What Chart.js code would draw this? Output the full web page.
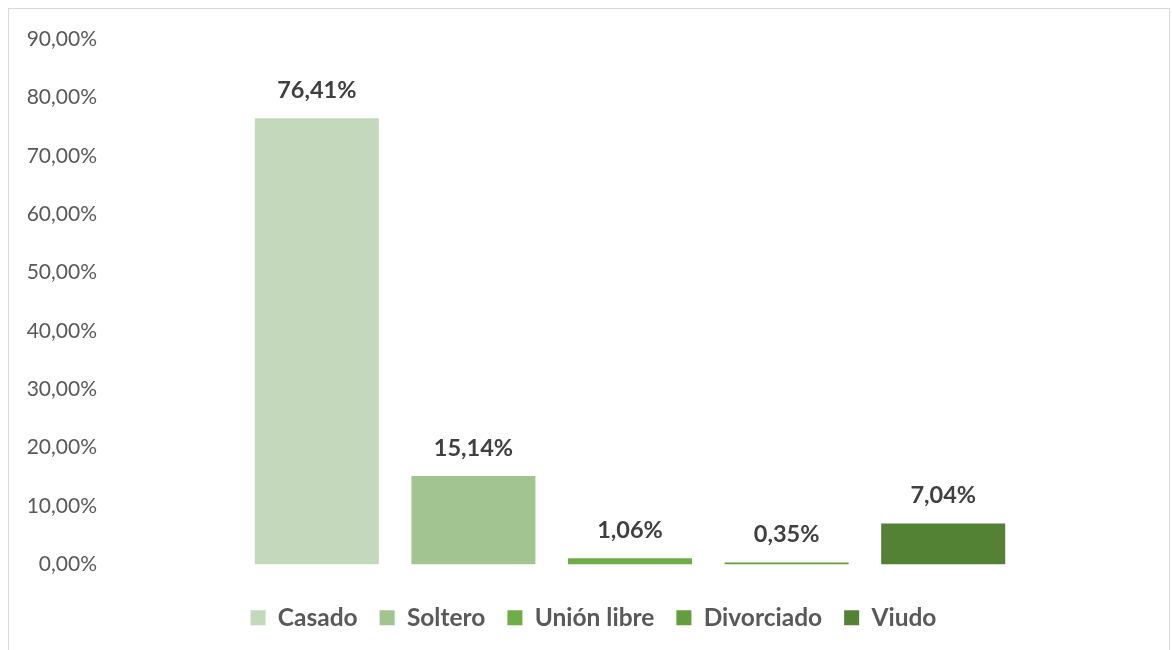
<!DOCTYPE html>
<html>
<head>
<meta charset="utf-8">
<script src="https://cdn.jsdelivr.net/npm/chart.js@4/dist/chart.umd.min.js"></script>
<style>
  body { margin: 0; background: #fff; }
  #wrap {
    position: absolute; left: 8px; top: 8px;
    width: 1160px; height: 660px;
    border: 1px solid #d9d9d9;
  }
</style>
</head>
<body>
<div id="wrap"><canvas id="chart" width="1160" height="641"></canvas></div>
<script>
// Estado civil: porcentaje por categoría
const categories = ["Casado", "Soltero", "Unión libre", "Divorciado", "Viudo"];
const values = [76.41, 15.14, 1.06, 0.35, 7.04];
const colors = ["#C4D8BB", "#A2C490", "#70AD47", "#639D3E", "#548235"];
const yTicks = [0, 10, 20, 30, 40, 50, 60, 70, 80, 90];

const fmt = v => v.toFixed(2).replace(".", ",") + "%";

// etiquetas de valor encima de cada barra
const valueLabels = {
  id: "valueLabels",
  afterDatasetsDraw(chart) {
    const ctx = chart.ctx;
    ctx.save();
    ctx.font = "bold 23.5px Lato";
    ctx.fillStyle = "#404040";
    ctx.textAlign = "center";
    ctx.textBaseline = "middle";
    chart.data.datasets.forEach((ds, i) => {
      const bar = chart.getDatasetMeta(i).data[0];
      ctx.fillText(fmt(ds.data[0]), bar.x, bar.y - 28);
    });
    ctx.restore();
  }
};

// desplaza la leyenda un poco a la derecha
const legendShift = {
  id: "legendShift",
  afterLayout(chart) {
    chart.legend.left += 13;
    chart.legend.right += 13;
  }
};

const datasets = categories.map((name, i) => ({
  label: name,
  data: [values[i]],
  backgroundColor: colors[i],
  barPercentage: 0.792,
  categoryPercentage: 0.75
}));

new Chart(document.getElementById("chart"), {
  type: "bar",
  data: { labels: [""], datasets: datasets },
  options: {
    responsive: false,
    animation: false,
    layout: { padding: { top: 30, right: 17, left: 0, bottom: 10 } },
    plugins: {
      tooltip: { enabled: false },
      legend: {
        position: "bottom",
        labels: {
          boxWidth: 15,
          boxHeight: 15,
          padding: 22,
          color: "#595959",
          font: { family: "Lato", size: 24.5, weight: "bold" }
        }
      }
    },
    scales: {
      // eje x oculto, solo reserva espacio sobre la leyenda
      x: {
        grid: { display: false },
        border: { display: false },
        ticks: { display: false },
        afterFit: axis => { axis.height = 19; }
      },
      y: {
        min: 0,
        max: 90,
        afterBuildTicks: axis => { axis.ticks = yTicks.map(v => ({ value: v })); },
        afterFit: axis => { axis.width = 99; },
        grid: { display: false },
        border: { display: false },
        ticks: {
          color: "#595959",
          font: { family: "Lato", size: 21 },
          callback: v => fmt(v)
        }
      }
    }
  },
  plugins: [valueLabels, legendShift]
});
</script>
</body>
</html>
